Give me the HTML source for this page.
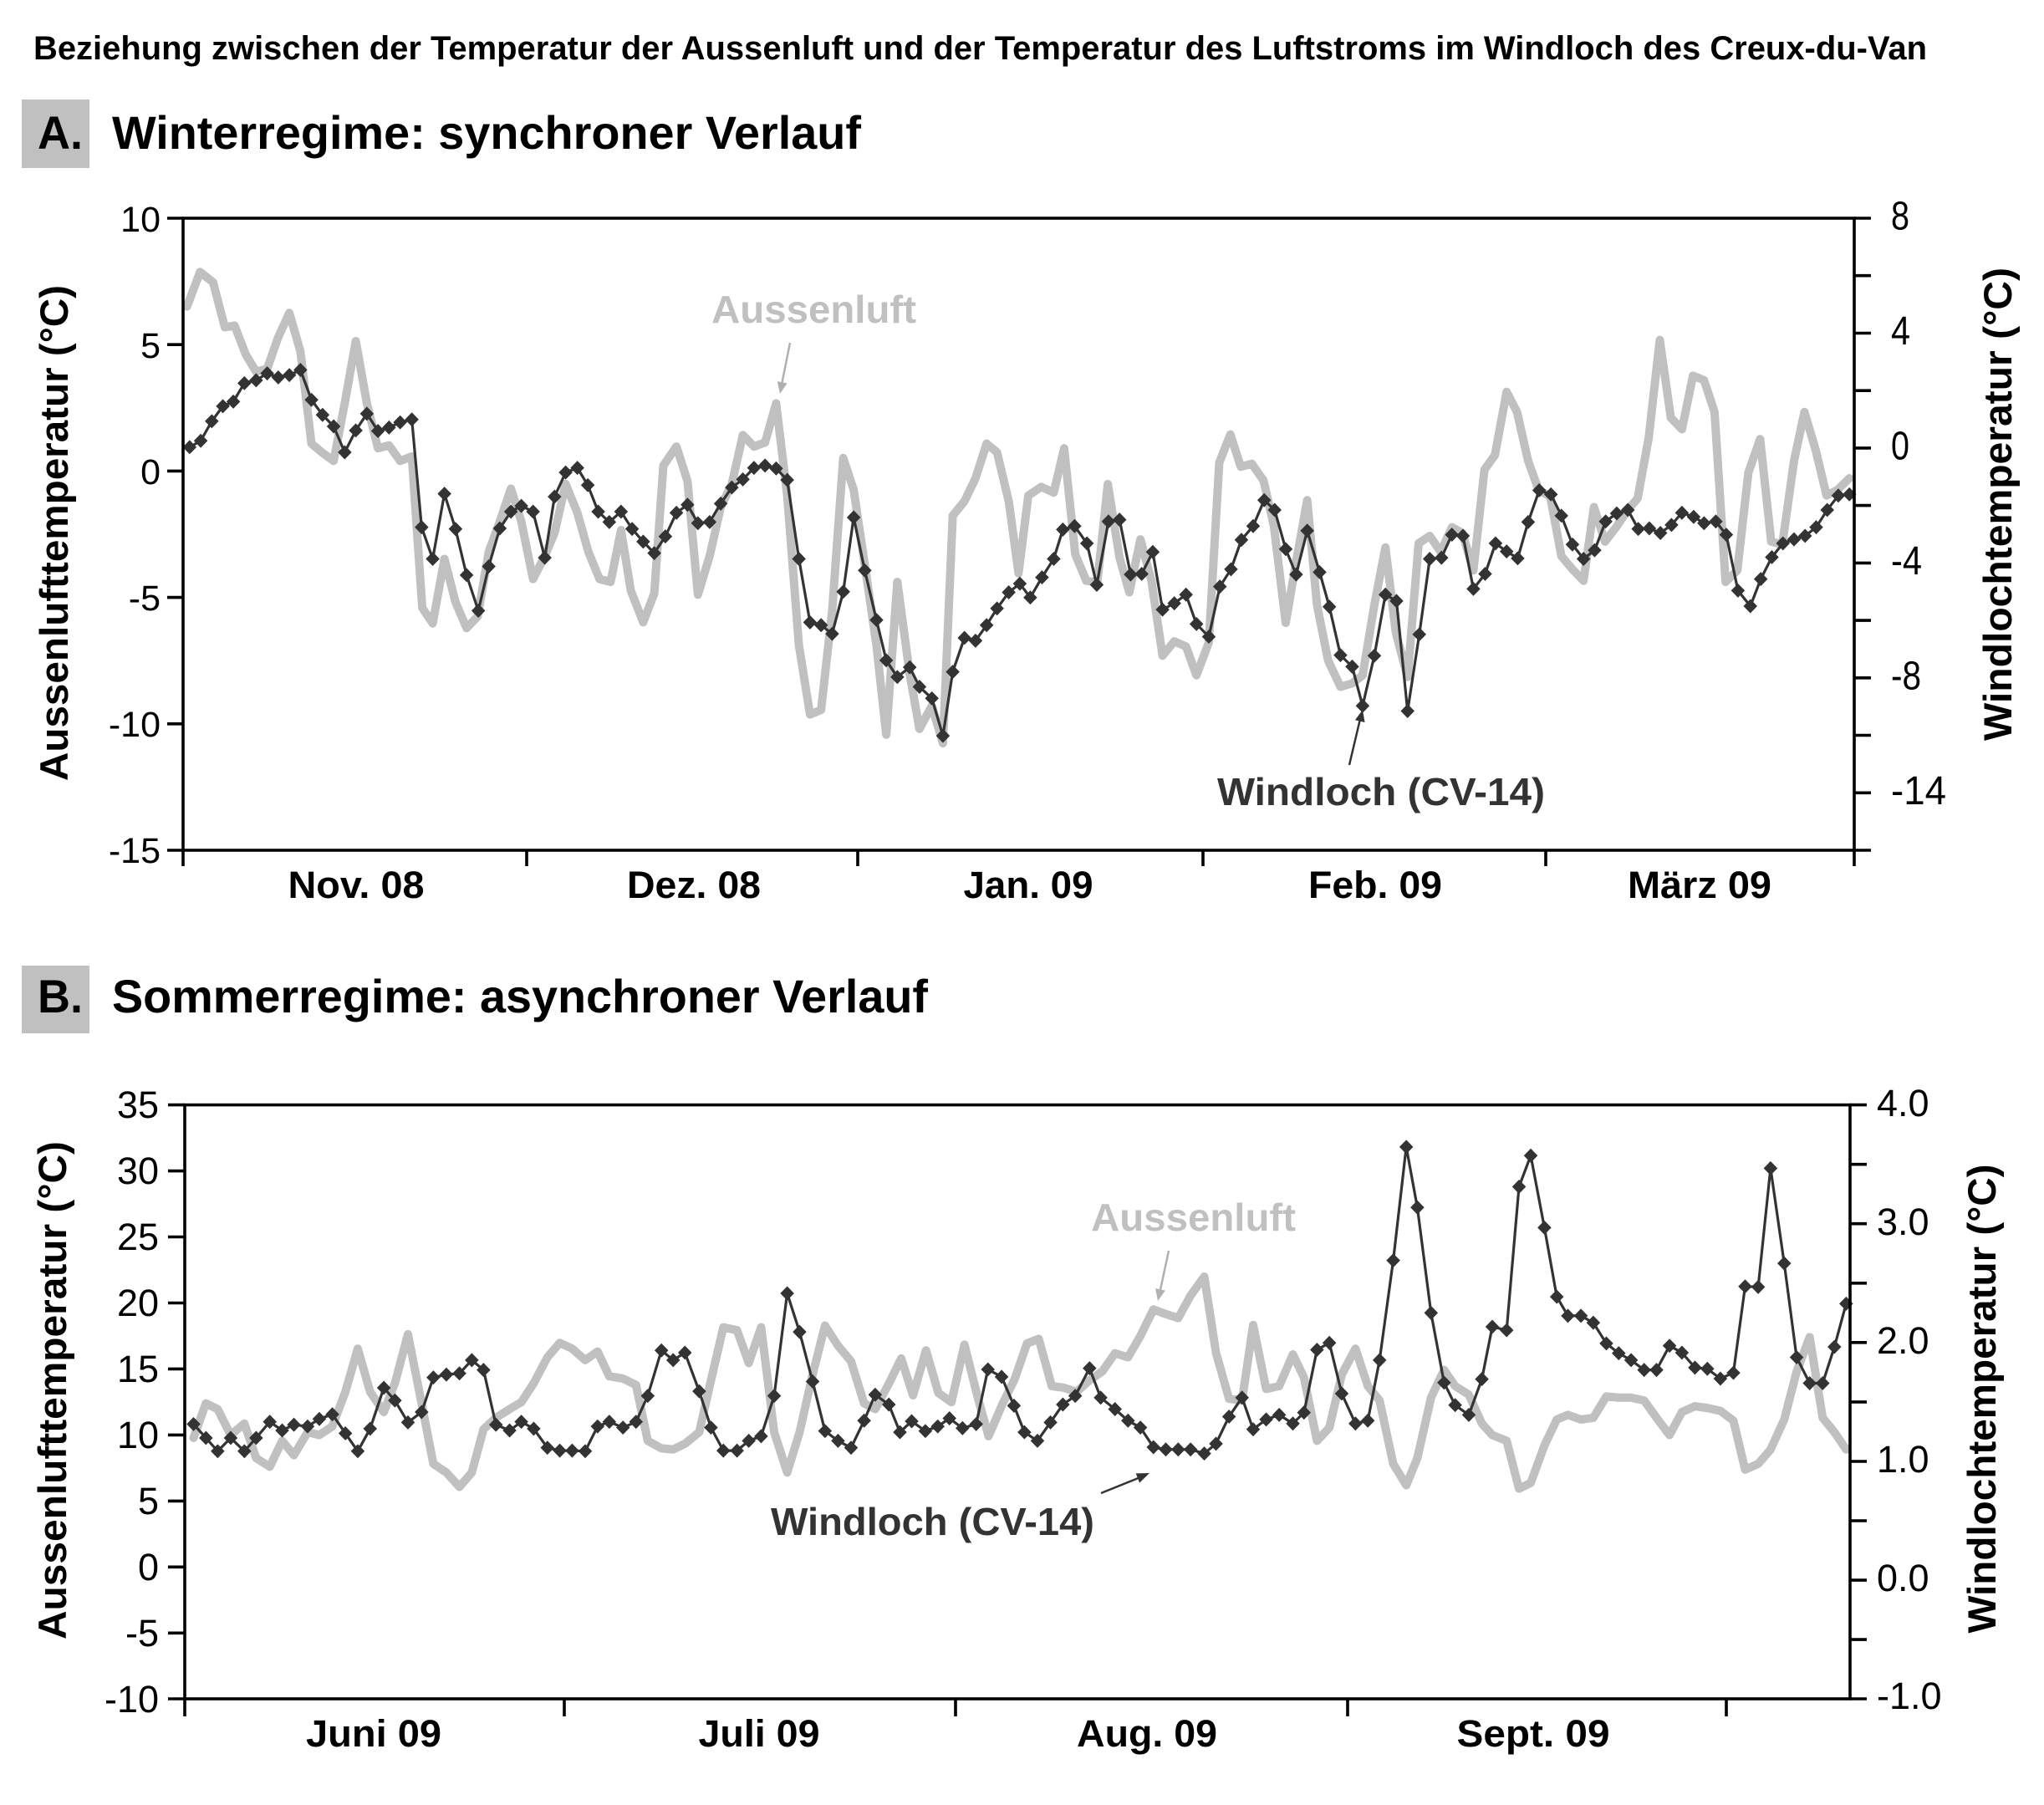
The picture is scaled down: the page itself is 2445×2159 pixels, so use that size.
<!DOCTYPE html>
<html><head><meta charset="utf-8"><style>
html,body{margin:0;padding:0;background:#fff;}
svg{display:block;}
text{font-family:"Liberation Sans",Arial,sans-serif;}
</style></head><body>
<svg width="2445" height="2159" viewBox="0 0 2445 2159" xmlns="http://www.w3.org/2000/svg">
<defs>
<marker id="dm" markerUnits="userSpaceOnUse" markerWidth="60" markerHeight="60" viewBox="-30 -30 60 60" refX="0" refY="0" overflow="visible">
<path d="M0,-12.3L10.6,0L0,12.3L-10.6,0Z" fill="#333"/>
</marker>
</defs>
<rect width="2445" height="2159" fill="#fff"/>

<!-- Main title -->
<text x="40" y="71" font-size="40" font-weight="bold" textLength="2265" lengthAdjust="spacingAndGlyphs" fill="#000">Beziehung zwischen der Temperatur der Aussenluft und der Temperatur des Luftstroms im Windloch des Creux-du-Van</text>

<!-- Section A heading -->
<rect x="26" y="119" width="81" height="82" fill="#c0c0c0"/>
<text x="45" y="178" font-size="56" font-weight="bold" textLength="54" lengthAdjust="spacingAndGlyphs">A.</text>
<text x="134" y="178" font-size="56" font-weight="bold" textLength="896" lengthAdjust="spacingAndGlyphs">Winterregime: synchroner Verlauf</text>

<!-- Chart A series -->
<g transform="matrix(0.7795 0 0 0.6892 0 0)">
<polyline fill="none" stroke="#c0c0c0" stroke-width="10" stroke-linejoin="round" stroke-linecap="round" vector-effect="non-scaling-stroke" points="287,532 307,472 327,490 345,568 360,565 377,615 393,645 410,640 427,585 444,543 461,610 478,770 495,786 512,800 529,700 546,592 563,700 580,778 597,773 614,800 632,792 648,1055 664,1082 682,970 699,1045 716,1090 733,1070 750,958 767,905 784,848 800,905 818,1005 836,965 851,925 868,840 886,890 903,958 920,1005 937,1010 953,920 968,1025 987,1080 1004,1030 1018,808 1038,775 1055,835 1071,1032 1089,965 1106,880 1123,840 1140,755 1157,775 1174,768 1191,700 1208,860 1226,1120 1243,1240 1260,1232 1277,1060 1294,795 1310,850 1327,980 1345,1120 1360,1275 1377,1010 1396,1170 1411,1265 1430,1225 1447,1290 1462,895 1480,870 1497,830 1514,770 1530,785 1548,870 1563,995 1578,860 1598,845 1617,855 1633,778 1650,962 1667,1008 1684,1010 1700,840 1718,968 1733,1028 1750,936 1767,1008 1784,1138 1802,1113 1820,1122 1836,1172 1855,1115 1871,803 1888,754 1904,810 1921,805 1939,834 1955,914 1973,1081 1989,975 2006,868 2021,1050 2038,1146 2057,1192 2075,1186 2091,1172 2109,1050 2126,950 2142,1098 2160,1175 2177,943 2194,930 2211,958 2228,915 2244,925 2261,990 2278,815 2294,790 2312,680 2328,715 2345,800 2361,850 2379,862 2396,965 2413,988 2430,1008 2446,880 2463,940 2480,915 2498,885 2513,865 2530,760 2547,590 2564,725 2581,745 2598,652 2615,660 2631,715 2648,1010 2666,990 2683,820 2701,762 2718,940 2735,945 2753,800 2769,715 2786,780 2803,860 2820,850 2838,830"/>
<polyline fill="none" stroke="#333" stroke-width="3.2" stroke-linejoin="round" vector-effect="non-scaling-stroke" marker-start="url(#dm)" marker-mid="url(#dm)" marker-end="url(#dm)" points="291,776 308,765 325,731 342,705 358,697 375,665 393,660 410,648 427,655 444,651 461,642 478,694 495,720 512,740 529,785 546,747 563,718 580,748 597,742 614,733 632,728 647,915 664,970 682,857 699,918 716,998 734,1060 750,983 767,917 784,888 800,878 818,888 836,968 851,862 868,820 886,812 902,842 918,888 935,906 953,888 970,918 987,940 1004,960 1021,931 1038,890 1055,876 1071,908 1089,906 1106,874 1123,846 1140,832 1157,812 1174,808 1191,813 1208,833 1226,970 1243,1080 1260,1085 1277,1100 1294,1027 1310,898 1327,990 1345,1076 1360,1146 1377,1175 1396,1158 1411,1192 1430,1212 1447,1277 1462,1166 1480,1107 1497,1112 1514,1085 1530,1056 1548,1028 1565,1013 1581,1037 1599,1002 1617,970 1631,919 1649,913 1668,943 1683,1015 1701,905 1718,902 1735,997 1752,996 1769,958 1784,1058 1802,1047 1820,1032 1836,1083 1855,1105 1872,1018 1889,988 1905,937 1923,913 1940,868 1956,885 1973,953 1989,997 2006,921 2025,993 2040,1053 2057,1137 2075,1157 2091,1225 2109,1138 2126,1032 2143,1043 2160,1234 2178,1101 2194,970 2212,968 2228,928 2245,930 2261,1022 2279,996 2295,943 2312,957 2329,969 2345,906 2362,851 2380,858 2396,895 2413,945 2430,970 2447,955 2464,905 2481,891 2498,885 2514,918 2531,917 2548,925 2565,911 2581,890 2599,897 2615,908 2633,905 2649,928 2667,1025 2686,1052 2702,1005 2719,967 2736,943 2753,936 2770,930 2787,915 2804,885 2821,860 2838,858"/>
</g>

<!-- Chart A axes -->
<g stroke="#000" stroke-width="3.6" fill="none">
<rect x="219" y="261" width="1999" height="756"/>
<path d="M200,261H219M200,412.2H219M200,563.4H219M200,714.6H219M200,865.8H219M200,1017H219"/>
<path d="M2218,261H2238M2218,329.7H2238M2218,398.5H2238M2218,467.2H2238M2218,535.9H2238M2218,604.6H2238M2218,673.4H2238M2218,742.1H2238M2218,810.8H2238M2218,879.5H2238M2218,948.3H2238M2218,1017H2238"/>
<path d="M219,1017V1036M630,1017V1036M1026,1017V1036M1439,1017V1036M1849,1017V1036M2218,1017V1036"/>
</g>
<g font-size="43" text-anchor="end" fill="#000">
<text x="192" y="277">10</text>
<text x="192" y="428">5</text>
<text x="192" y="579">0</text>
<text x="192" y="730">-5</text>
<text x="192" y="881">-10</text>
<text x="192" y="1032">-15</text>
</g>
<g font-size="48" text-anchor="start" fill="#000">
<text x="2262" y="274.5" textLength="22" lengthAdjust="spacingAndGlyphs">8</text>
<text x="2262" y="412" textLength="23" lengthAdjust="spacingAndGlyphs">4</text>
<text x="2262" y="549.5" textLength="22" lengthAdjust="spacingAndGlyphs">0</text>
<text x="2262" y="687" textLength="37" lengthAdjust="spacingAndGlyphs">-4</text>
<text x="2262" y="824.5" textLength="36" lengthAdjust="spacingAndGlyphs">-8</text>
<text x="2262" y="962" textLength="66" lengthAdjust="spacingAndGlyphs">-14</text>
</g>
<g font-size="45" font-weight="bold" text-anchor="middle" fill="#000">
<text x="426" y="1074" textLength="163" lengthAdjust="spacingAndGlyphs">Nov. 08</text>
<text x="830" y="1074" textLength="160" lengthAdjust="spacingAndGlyphs">Dez. 08</text>
<text x="1230" y="1074" textLength="155" lengthAdjust="spacingAndGlyphs">Jan. 09</text>
<text x="1645" y="1074" textLength="160" lengthAdjust="spacingAndGlyphs">Feb. 09</text>
<text x="2033" y="1074" textLength="172" lengthAdjust="spacingAndGlyphs">März 09</text>
</g>
<text transform="translate(81,637.5) rotate(-90)" text-anchor="middle" font-size="47" font-weight="bold" textLength="593" lengthAdjust="spacingAndGlyphs">Aussenlufttemperatur (°C)</text>
<text transform="translate(2406,603) rotate(-90)" text-anchor="middle" font-size="47" font-weight="bold" textLength="566" lengthAdjust="spacingAndGlyphs">Windlochtemperatur (°C)</text>

<!-- Chart A annotations -->
<text x="851" y="386" font-size="46" font-weight="bold" fill="#c0c0c0" textLength="245" lengthAdjust="spacingAndGlyphs">Aussenluft</text>
<line x1="945" y1="410" x2="935" y2="460" stroke="#b0b0b0" stroke-width="2.5"/>
<polygon points="933,471 941.6,458.5 929.8,456.1" fill="#b0b0b0"/>
<text x="1456" y="963" font-size="46" font-weight="bold" fill="#333" textLength="392" lengthAdjust="spacingAndGlyphs">Windloch (CV-14)</text>
<line x1="1614" y1="915" x2="1627" y2="860" stroke="#333" stroke-width="2.5"/>
<polygon points="1630,849 1632.5,864 1620.9,861.2" fill="#333"/>

<!-- Section B heading -->
<rect x="26" y="1155" width="81" height="81" fill="#c0c0c0"/>
<text x="45" y="1211" font-size="56" font-weight="bold" textLength="54" lengthAdjust="spacingAndGlyphs">B.</text>
<text x="134" y="1211" font-size="56" font-weight="bold" textLength="976" lengthAdjust="spacingAndGlyphs">Sommerregime: asynchroner Verlauf</text>

<!-- Chart B series -->
<g transform="matrix(0.7795 0 0 0.6892 0 1079)">
<polyline fill="none" stroke="#c0c0c0" stroke-width="10" stroke-linejoin="round" stroke-linecap="round" vector-effect="non-scaling-stroke" points="297,930 316,870 334,880 354,925 375,905 393,965 414,980 433,935 451,960 472,920 490,925 510,910 530,850 549,775 568,850 589,885 606,835 626,750 647,870 665,975 685,990 705,1015 724,990 742,915 761,895 782,880 800,868 819,835 840,790 859,765 878,775 898,795 917,780 935,823 956,827 976,838 994,935 1015,948 1033,950 1051,940 1073,920 1091,830 1110,738 1131,743 1149,800 1168,738 1188,920 1208,990 1227,920 1247,820 1266,735 1286,770 1306,797 1326,870 1343,880 1363,838 1383,792 1401,856 1421,778 1440,852 1460,868 1480,768 1500,858 1517,927 1538,872 1557,828 1576,766 1594,758 1614,840 1633,843 1652,850 1672,830 1692,814 1711,783 1731,790 1750,753 1770,707 1789,715 1808,722 1827,683 1848,650 1866,782 1886,862 1906,865 1923,734 1943,845 1963,840 1984,785 2001,825 2021,935 2040,912 2059,820 2080,775 2099,840 2117,865 2138,975 2158,1012 2175,965 2196,860 2216,812 2233,840 2254,855 2274,905 2290,925 2312,935 2331,1018 2349,1008 2370,943 2389,898 2406,890 2426,898 2445,895 2465,858 2484,860 2503,860 2523,865 2542,895 2562,925 2581,885 2601,875 2620,878 2640,883 2660,900 2678,985 2698,975 2717,950 2738,898 2757,815 2777,755 2797,895 2815,920 2833,950"/>
<polyline fill="none" stroke="#333" stroke-width="3.2" stroke-linejoin="round" vector-effect="non-scaling-stroke" marker-start="url(#dm)" marker-mid="url(#dm)" marker-end="url(#dm)" points="297,906 316,930 334,953 354,930 375,953 393,930 414,902 433,917 451,907 472,910 490,897 510,889 530,922 549,953 568,914 589,843 606,865 626,903 647,885 665,825 685,820 705,818 724,795 742,812 761,907 782,917 800,902 819,914 840,947 859,952 878,952 898,953 917,910 935,902 956,912 976,902 994,857 1015,778 1033,795 1051,782 1073,849 1091,912 1110,952 1131,952 1149,935 1168,927 1188,857 1208,679 1227,746 1247,832 1266,918 1286,935 1306,947 1326,900 1343,855 1364,872 1381,920 1399,901 1420,918 1439,910 1457,896 1477,913 1498,906 1516,811 1537,824 1556,874 1572,920 1592,935 1612,903 1631,872 1650,857 1672,809 1689,860 1711,880 1731,900 1750,912 1770,946 1789,950 1808,950 1827,950 1848,957 1866,940 1886,893 1906,860 1923,915 1943,898 1963,890 1984,905 2001,886 2021,777 2040,765 2059,853 2080,905 2099,900 2117,795 2138,622 2158,425 2175,530 2196,713 2216,834 2233,873 2254,890 2274,828 2290,737 2312,743 2331,494 2349,440 2370,565 2389,685 2406,718 2426,718 2445,730 2465,766 2484,783 2503,795 2523,812 2542,812 2562,770 2581,782 2601,808 2620,810 2640,827 2660,817 2678,667 2698,668 2717,462 2738,627 2757,790 2777,835 2797,835 2815,772 2833,697"/>
</g>

<!-- Chart B axes -->
<g stroke="#000" stroke-width="3.6" fill="none">
<rect x="221" y="1321.6" width="1992" height="710.4"/>
<path d="M201,1321.6H221M201,1400.6H221M201,1479.5H221M201,1558.5H221M201,1637.4H221M201,1716.4H221M201,1795.4H221M201,1874.3H221M201,1953.3H221M201,2032H221"/>
<path d="M2213,1321.6H2233M2213,1392.7H2233M2213,1463.7H2233M2213,1534.8H2233M2213,1605.8H2233M2213,1676.9H2233M2213,1748H2233M2213,1819H2233M2213,1890.1H2233M2213,1961.1H2233M2213,2032H2233"/>
<path d="M221,2032V2053M675,2032V2053M1143,2032V2053M1612,2032V2053M2065,2032V2053"/>
</g>
<g font-size="45" text-anchor="end" fill="#000">
<text x="190" y="1337">35</text>
<text x="190" y="1416">30</text>
<text x="190" y="1495">25</text>
<text x="190" y="1574">20</text>
<text x="190" y="1653">15</text>
<text x="190" y="1732">10</text>
<text x="190" y="1811">5</text>
<text x="190" y="1890">0</text>
<text x="190" y="1969">-5</text>
<text x="190" y="2048">-10</text>
</g>
<g font-size="45" text-anchor="start" fill="#000">
<text x="2245" y="1335">4.0</text>
<text x="2245" y="1477">3.0</text>
<text x="2245" y="1619">2.0</text>
<text x="2245" y="1761">1.0</text>
<text x="2245" y="1903">0.0</text>
<text x="2245" y="2044">-1.0</text>
</g>
<g font-size="45" font-weight="bold" text-anchor="middle" fill="#000">
<text x="447" y="2089" textLength="162" lengthAdjust="spacingAndGlyphs">Juni 09</text>
<text x="908" y="2089" textLength="145" lengthAdjust="spacingAndGlyphs">Juli 09</text>
<text x="1372" y="2089" textLength="168" lengthAdjust="spacingAndGlyphs">Aug. 09</text>
<text x="1834" y="2089" textLength="183" lengthAdjust="spacingAndGlyphs">Sept. 09</text>
</g>
<text transform="translate(79,1663) rotate(-90)" text-anchor="middle" font-size="47" font-weight="bold" textLength="596" lengthAdjust="spacingAndGlyphs">Aussenlufttemperatur (°C)</text>
<text transform="translate(2387,1673) rotate(-90)" text-anchor="middle" font-size="47" font-weight="bold" textLength="561" lengthAdjust="spacingAndGlyphs">Windlochtemperatur (°C)</text>

<!-- Chart B annotations -->
<text x="1305" y="1472" font-size="46" font-weight="bold" fill="#c0c0c0" textLength="245" lengthAdjust="spacingAndGlyphs">Aussenluft</text>
<line x1="1398" y1="1496" x2="1387.5" y2="1545" stroke="#b0b0b0" stroke-width="2.5"/>
<polygon points="1385,1556 1393.9,1543.6 1382.1,1541" fill="#b0b0b0"/>
<text x="922" y="1836" font-size="46" font-weight="bold" fill="#333" textLength="387" lengthAdjust="spacingAndGlyphs">Windloch (CV-14)</text>
<line x1="1317" y1="1786" x2="1364" y2="1767" stroke="#333" stroke-width="2.5"/>
<polygon points="1375,1762 1363.1,1773.6 1358.7,1762.4" fill="#333"/>
</svg>
</body></html>
